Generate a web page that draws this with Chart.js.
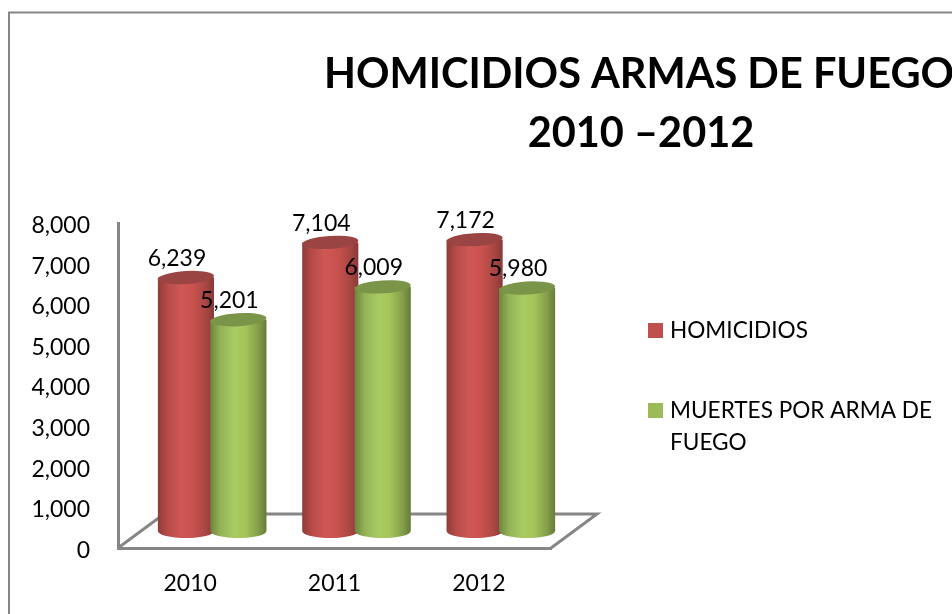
<!DOCTYPE html>
<html>
<head>
<meta charset="utf-8">
<style>html,body{margin:0;padding:0;background:#fff;overflow:hidden}canvas{display:block}</style>
<script src="https://cdn.jsdelivr.net/npm/chart.js@4"></script>
</head>
<body>
<canvas id="c" width="952" height="614"></canvas>
<script>
const years = ['2010', '2011', '2012'];
const homicidios = [6239, 7104, 7172];
const muertes = [5201, 6009, 5980];
const titleLines = ['HOMICIDIOS ARMAS DE FUEGO', '2010 –2012'];
const legendLines = [['HOMICIDIOS'], ['MUERTES POR ARMA DE', 'FUEGO']];

const FONT = 'Lato, Carlito, Calibri, sans-serif';
const AXIS = '#868686';
const DEPTH_X = 22, DEPTH_Y = -17;           // bars stand in the middle of the floor
const FLOOR_X = 46, FLOOR_Y = -34;           // depth of the floor
const looks = [
  { solid: '#c0504d', stops: ['#8e3c3a', '#b84c49', '#cf5855', '#c9524f', '#a94644', '#893937'], top: '#9a4543' },
  { solid: '#9bbb59', stops: ['#6d853d', '#93b356', '#a9cb62', '#a3c55c', '#859f4a', '#667c38'], top: '#7a9448' }
];
const STOP_AT = [0, 0.18, 0.42, 0.62, 0.85, 1];

const fmt = v => v.toLocaleString('en-US');

function drawCylinder(ctx, bar, look) {
  const { x, y, base, width } = bar.getProps(['x', 'y', 'base', 'width'], true);
  const l = x - width / 2, rx = width / 2, ry = 6.5, tilt = -0.06;
  const g = ctx.createLinearGradient(l, 0, l + width, 0);
  look.stops.forEach((c, i) => g.addColorStop(STOP_AT[i], c));
  ctx.fillStyle = g;
  ctx.beginPath();
  ctx.moveTo(l, y);
  ctx.lineTo(l, base);
  ctx.ellipse(x, base, rx, 7, 0, Math.PI, 0, true);
  ctx.lineTo(l + width, y);
  ctx.closePath();
  ctx.fill();
  ctx.fillStyle = look.top;
  ctx.beginPath();
  ctx.ellipse(x, y, rx, ry, tilt, 0, Math.PI * 2);
  ctx.fill();
}

const scene = {
  id: 'scene',
  beforeDraw(chart) {
    const { ctx, scales } = chart;
    ctx.save();
    // frame
    ctx.strokeStyle = AXIS;
    ctx.lineWidth = 2;
    ctx.beginPath();
    ctx.moveTo(9, 614); ctx.lineTo(9, 12.5); ctx.lineTo(952, 12.5);
    ctx.stroke();
    // title
    ctx.fillStyle = '#000';
    ctx.textAlign = 'center';
    ctx.textBaseline = 'middle';
    ctx.font = 'bold 41.5px ' + FONT;
    ctx.fillText(titleLines[0], 639, 75);
    ctx.fillText(titleLines[1], 641, 134);
    // legend
    ctx.textAlign = 'left';
    ctx.font = '22.6px ' + FONT;
    const swatchY = [323, 403];
    legendLines.forEach((lines, i) => {
      ctx.fillStyle = looks[i].solid;
      ctx.fillRect(648, swatchY[i], 15, 15);
      ctx.fillStyle = '#000';
      lines.forEach((t, j) => ctx.fillText(t, 670, swatchY[i] + 8 + j * 32));
    });
    // floor
    const y0 = scales.y.getPixelForValue(0);
    ctx.strokeStyle = AXIS;
    ctx.lineWidth = 3;
    ctx.beginPath();
    ctx.moveTo(scales.x.left, y0);
    ctx.lineTo(scales.x.left + FLOOR_X, y0 + FLOOR_Y);
    ctx.lineTo(scales.x.right + FLOOR_X, y0 + FLOOR_Y);
    ctx.lineTo(scales.x.right, y0);
    ctx.stroke();
    ctx.restore();
  },
  beforeDatasetsDraw(chart) {
    const ctx = chart.ctx;
    ctx.save();
    ctx.translate(DEPTH_X, DEPTH_Y);
    // each category: red first, then green in front of it
    years.forEach((_, i) => {
      [0, 1].forEach(d => drawCylinder(ctx, chart.getDatasetMeta(d).data[i], looks[d]));
    });
    ctx.fillStyle = '#000';
    ctx.textAlign = 'center';
    ctx.textBaseline = 'middle';
    ctx.font = '23px ' + FONT;
    [0, 1].forEach(d => {
      chart.getDatasetMeta(d).data.forEach((bar, i) => {
        ctx.fillText(fmt(chart.data.datasets[d].data[i]), bar.x - 9, bar.y - 19);
      });
    });
    ctx.restore();
    return false;
  }
};

new Chart(document.getElementById('c'), {
  type: 'bar',
  data: {
    labels: years,
    datasets: [
      { label: 'HOMICIDIOS', data: homicidios, backgroundColor: looks[0].solid },
      { label: 'MUERTES POR ARMA DE FUEGO', data: muertes, backgroundColor: looks[1].solid }
    ]
  },
  options: {
    responsive: false,
    animation: false,
    categoryPercentage: 0.727,
    barPercentage: 1.07,
    layout: { padding: { left: 0, right: 401, top: 223, bottom: 0 } },
    plugins: { legend: { display: false }, title: { display: false }, tooltip: { enabled: false } },
    scales: {
      x: {
        grid: { display: false, drawTicks: false },
        border: { display: true, color: AXIS, width: 3 },
        ticks: { color: '#000', padding: 22, font: { family: FONT, size: 23 } },
        afterFit(s) { s.height = 66; }
      },
      y: {
        min: 0, max: 8000,
        grid: { display: false, drawTicks: false },
        border: { display: true, color: AXIS, width: 3 },
        ticks: { stepSize: 1000, color: '#000', padding: 28, labelOffset: 2.5, font: { family: FONT, size: 23 }, callback: v => fmt(v) },
        afterFit(s) { s.width = 118; }
      }
    }
  },
  plugins: [scene]
});
</script>
</body>
</html>
